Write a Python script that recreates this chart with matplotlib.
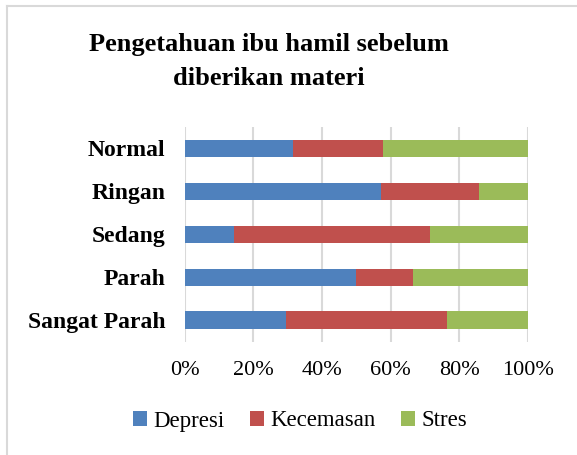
import matplotlib
matplotlib.use("Agg")
import matplotlib.pyplot as plt
from matplotlib.patches import Patch
from matplotlib.lines import Line2D
import numpy as np

plt.rcParams['font.family'] = ['Liberation Serif', 'DejaVu Serif']

categories = ["Normal", "Ringan", "Sedang", "Parah", "Sangat Parah"]
depresi = [31.6, 57.1, 14.3, 50.0, 29.4]
kecemasan = [26.3, 28.6, 57.1, 16.7, 47.1]
stres = [42.1, 14.3, 28.6, 33.3, 23.5]
series_names = ["Depresi", "Kecemasan", "Stres"]
colors = ["#4F81BD", "#C0504D", "#9BBB59"]
xticks = [0, 20, 40, 60, 80, 100]
xticklabels = ["0%", "20%", "40%", "60%", "80%", "100%"]
title = "Pengetahuan ibu hamil sebelum\ndiberikan materi"

W, H = 577, 455
fig = plt.figure(figsize=(W / 100, H / 100), dpi=100)
ax = fig.add_axes([184.7 / W, 1 - 341.5 / H, (527.7 - 184.7) / W, (341.5 - 127) / H])

y = np.arange(len(categories))
left = np.zeros(len(categories))
for vals, name, c in zip([depresi, kecemasan, stres], series_names, colors):
    ax.barh(y, vals, left=left, height=0.4, color=c, label=name, zorder=3)
    left = left + np.array(vals)

ax.set_xlim(0, 100)
ax.set_ylim(len(categories) - 0.5, -0.5)
ax.set_yticks(y)
ax.set_yticklabels(categories, fontsize=17, fontweight='bold')
ax.set_xticks(xticks)
ax.set_xticklabels(xticklabels, fontsize=16)
ax.tick_params(axis='both', length=0)
ax.tick_params(axis='y', pad=14)
ax.tick_params(axis='x', pad=14)
for s in ax.spines.values():
    s.set_visible(False)
ax.grid(axis='x', color='#d9d9d9', linewidth=1.5, zorder=0)
ax.set_axisbelow(True)

fig.text(269 / W, 1 - 33 / H, title, ha='center', va='top', fontsize=19,
         fontweight='bold', linespacing=1.6, multialignment='center')

handles = [Patch(facecolor=c, edgecolor='none') for c in colors]
fig.legend(handles, series_names, loc='center', bbox_to_anchor=(300 / W, 1 - 421 / H),
           ncol=3, frameon=False, fontsize=16.5, handlelength=0.6, handleheight=0.6,
           handletextpad=0.3, columnspacing=1.1)

# outer chart border (left and top visible)
fig.add_artist(Line2D([7 / W, 7 / W], [0, 1 - 6 / H], transform=fig.transFigure,
                      color='#d9d9d9', linewidth=1.5))
fig.add_artist(Line2D([7 / W, 1], [1 - 6 / H, 1 - 6 / H], transform=fig.transFigure,
                      color='#d9d9d9', linewidth=1.5))

fig.savefig("out.png", dpi=100)
